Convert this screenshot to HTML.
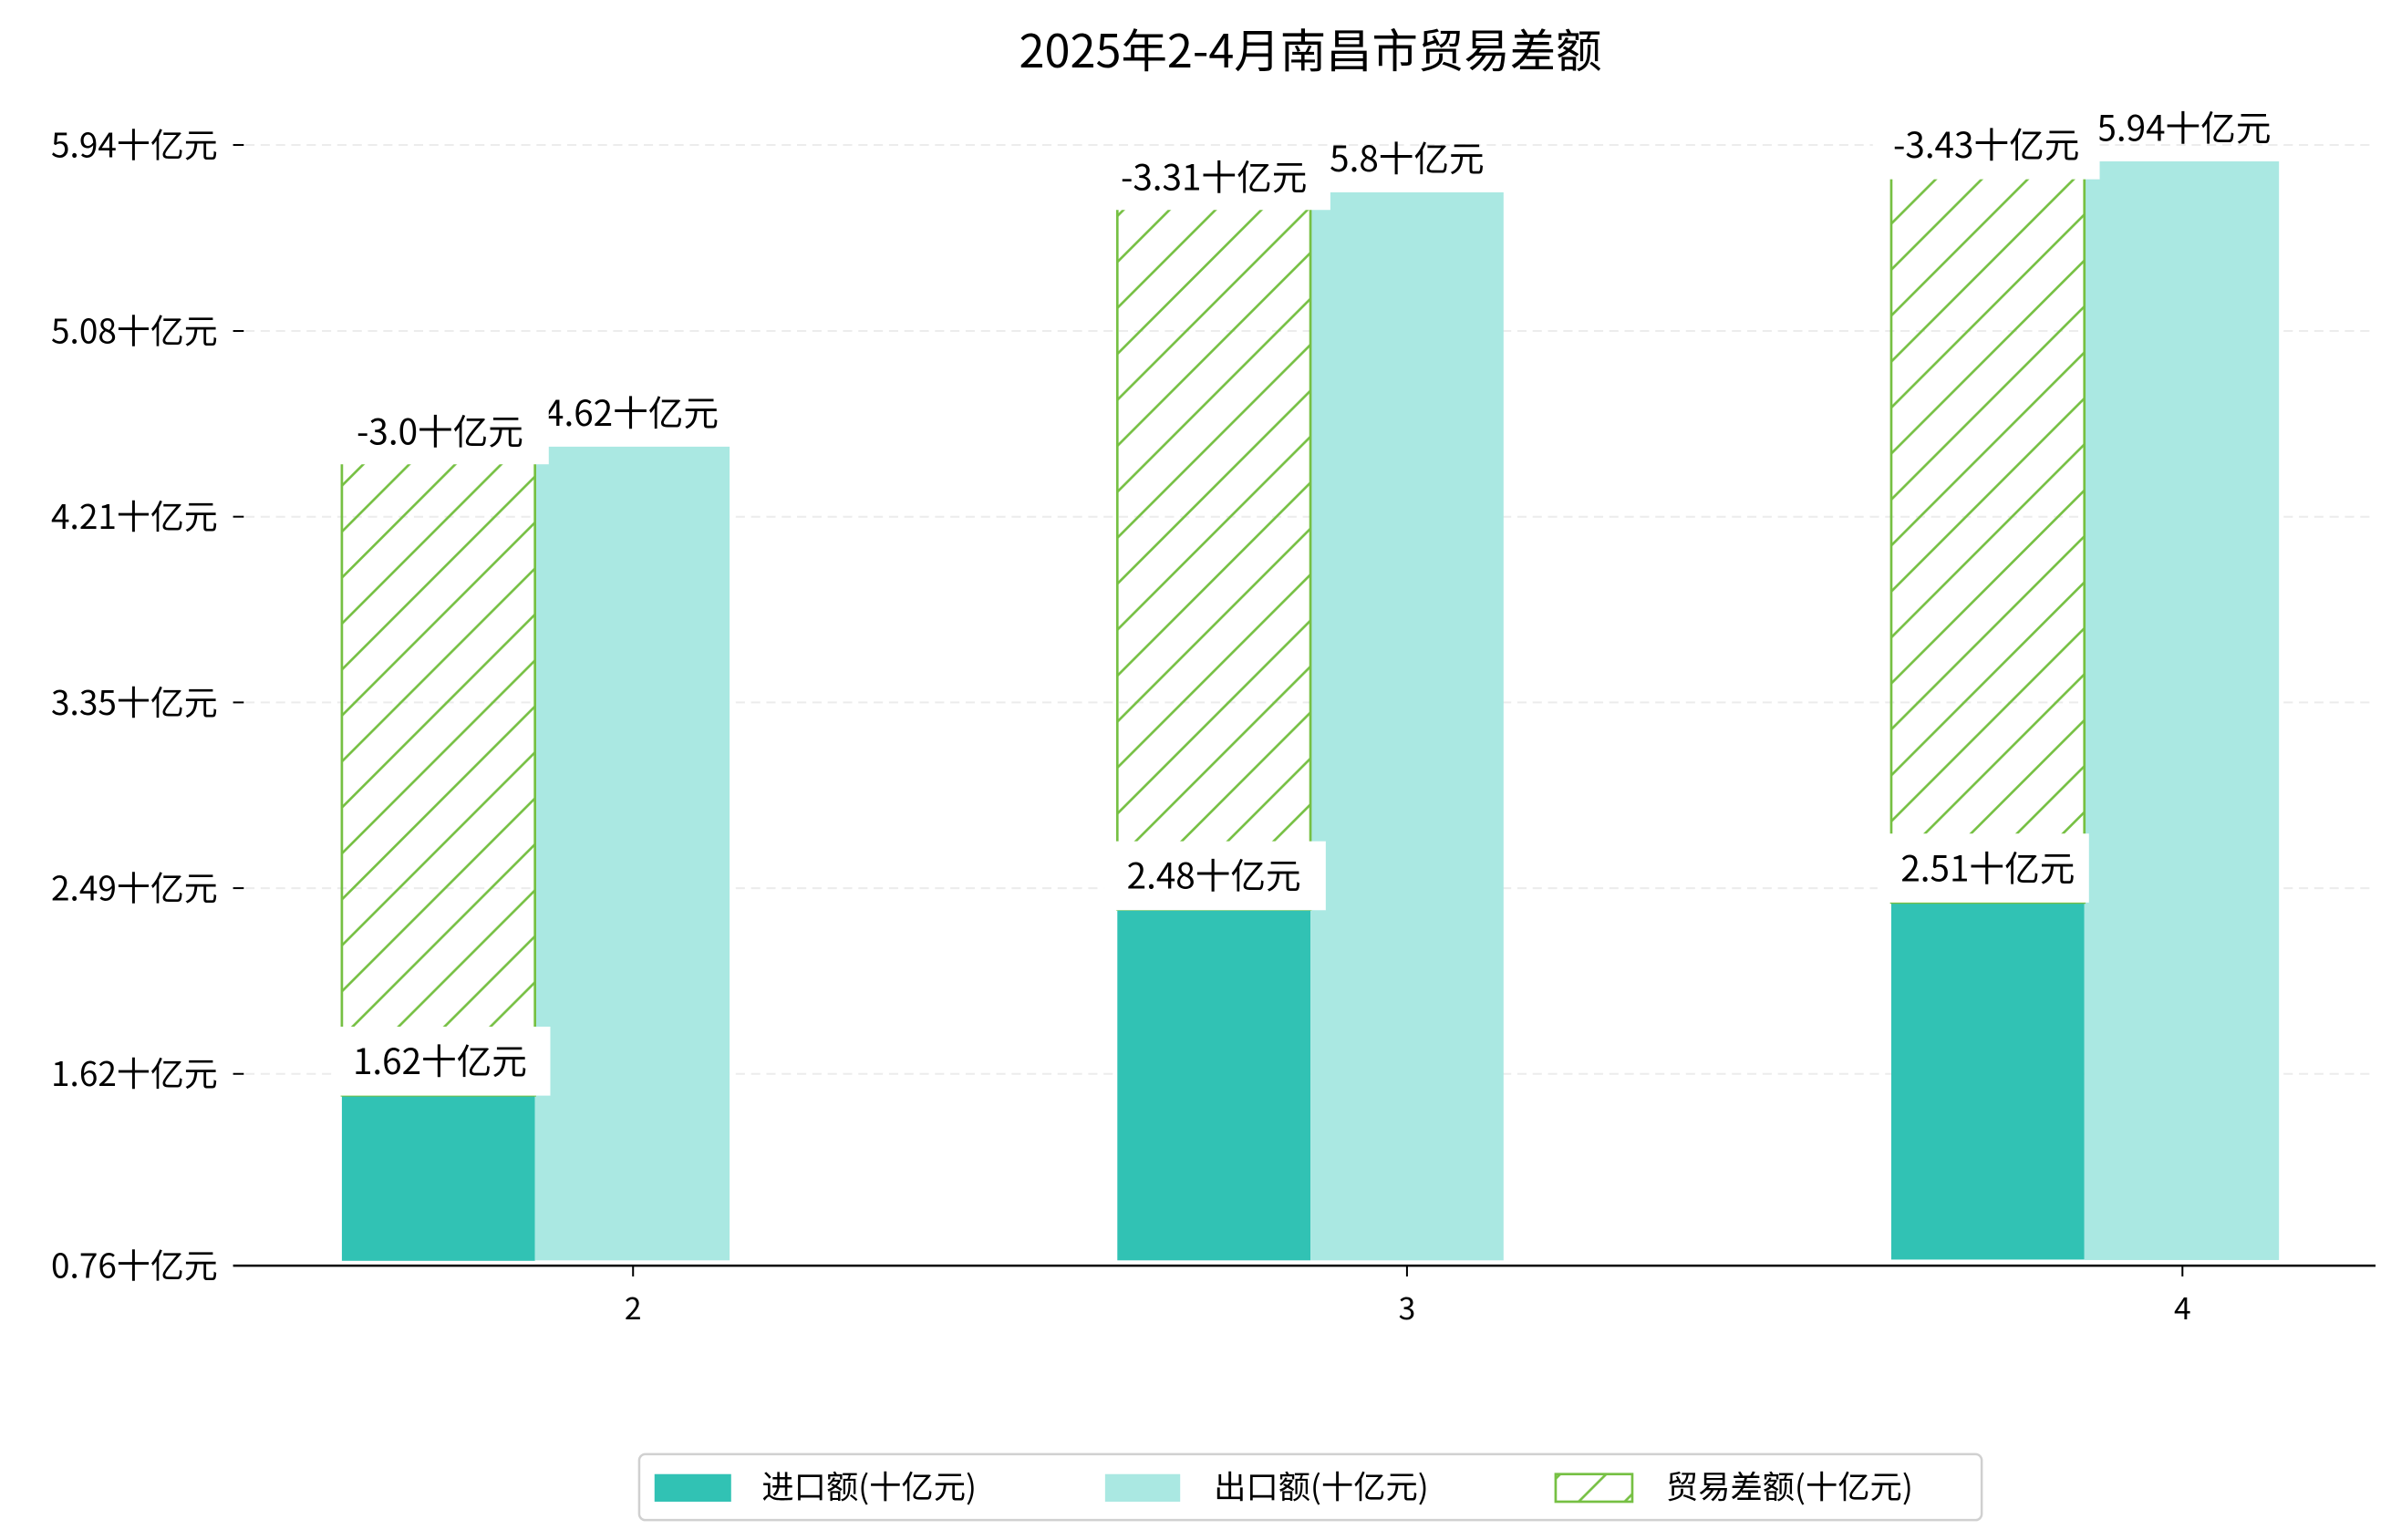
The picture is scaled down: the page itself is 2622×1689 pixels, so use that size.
<!DOCTYPE html>
<html><head><meta charset="utf-8"><style>html,body{margin:0;padding:0;background:#fff}svg{display:block}text{font-family:"WenQuanYi Zen Hei","Noto Sans CJK SC","Liberation Sans",sans-serif;fill:#000}</style></head>
<body>
<svg width="2622" height="1689" viewBox="0 0 1560 1005" xmlns="http://www.w3.org/2000/svg">
<defs>
<pattern id="h" patternUnits="userSpaceOnUse" width="30" height="30">
<path d="M-5,35 L35,-5 M-20,20 L20,-20 M10,50 L50,10" stroke="#76c043" stroke-width="1.6"/>
</pattern>
</defs>
<rect width="1560" height="1005" fill="#fff"/>
<text x="855" y="44" font-size="30" text-anchor="middle">2025年2-4月南昌市贸易差额</text>
<g stroke="#ececec" stroke-width="1.2" stroke-dasharray="6,4">
<line x1="160" y1="94.6" x2="1550" y2="94.6"/>
<line x1="160" y1="216" x2="1550" y2="216"/>
<line x1="160" y1="337.2" x2="1550" y2="337.2"/>
<line x1="160" y1="458.4" x2="1550" y2="458.4"/>
<line x1="160" y1="579.6" x2="1550" y2="579.6"/>
<line x1="160" y1="700.8" x2="1550" y2="700.8"/>
</g>
<g stroke="#000" stroke-width="1.2">
<line x1="152" y1="94.6" x2="159" y2="94.6"/>
<line x1="152" y1="216" x2="159" y2="216"/>
<line x1="152" y1="337.2" x2="159" y2="337.2"/>
<line x1="152" y1="458.4" x2="159" y2="458.4"/>
<line x1="152" y1="579.6" x2="159" y2="579.6"/>
<line x1="152" y1="700.8" x2="159" y2="700.8"/>
</g>
<g font-size="22" text-anchor="end">
<text x="142" y="102.6">5.94十亿元</text>
<text x="142" y="224">5.08十亿元</text>
<text x="142" y="345.2">4.21十亿元</text>
<text x="142" y="466.4">3.35十亿元</text>
<text x="142" y="587.6">2.49十亿元</text>
<text x="142" y="708.8">1.62十亿元</text>
<text x="142" y="834">0.76十亿元</text>
</g>
<g fill="#31c2b4">
<rect x="223" y="714.8" width="126" height="108"/>
<rect x="729" y="593.5" width="126" height="229"/>
<rect x="1234" y="589" width="126" height="233"/>
</g>
<g fill="#aae8e2">
<rect x="349" y="291.5" width="127" height="531"/>
<rect x="855" y="125.5" width="126" height="697"/>
<rect x="1360" y="105.3" width="127" height="717"/>
</g>
<g fill="url(#h)" stroke="#76c043" stroke-width="1.6">
<rect x="223" y="291.5" width="126" height="423.3"/>
<rect x="729" y="125.5" width="126" height="468"/>
<rect x="1234" y="105.3" width="126" height="483.7"/>
</g>
<line x1="152" y1="826" x2="1550" y2="826" stroke="#000" stroke-width="1.5"/>
<g stroke="#000" stroke-width="1.2">
<line x1="413" y1="826" x2="413" y2="833"/>
<line x1="918" y1="826" x2="918" y2="833"/>
<line x1="1424" y1="826" x2="1424" y2="833"/>
</g>
<g font-size="20" text-anchor="middle">
<text x="413" y="861">2</text><text x="918" y="861">3</text><text x="1424" y="861">4</text>
</g>
<g font-size="23" text-anchor="middle">
<text x="412" y="278">4.62十亿元</text>
<text x="918" y="112">5.8十亿元</text>
<text x="1425" y="92">5.94十亿元</text>
</g>
<g fill="#fff">
<rect x="218" y="670" width="141" height="45"/>
<rect x="720" y="549" width="145" height="45"/>
<rect x="1225" y="544" width="138" height="45"/>
<rect x="218" y="263" width="140" height="40"/>
<rect x="716" y="97" width="152" height="40"/>
<rect x="1222" y="76" width="148" height="41"/>
</g>
<g font-size="23" text-anchor="middle">
<text x="287" y="701">1.62十亿元</text>
<text x="792" y="580">2.48十亿元</text>
<text x="1297" y="575">2.51十亿元</text>
<text x="287" y="290">-3.0十亿元</text>
<text x="792" y="124">-3.31十亿元</text>
<text x="1296" y="103">-3.43十亿元</text>
</g>
<rect x="417" y="949" width="876" height="43" rx="4" fill="#fff" stroke="#d0d0d0" stroke-width="1.5"/>
<rect x="427" y="962" width="50" height="18" fill="#31c2b4"/>
<rect x="721" y="962" width="49" height="18" fill="#aae8e2"/>
<rect x="1015" y="962" width="50" height="18" fill="url(#h)" stroke="#76c043" stroke-width="1.6"/>
<g font-size="21">
<text x="497" y="978">进口额(十亿元)</text>
<text x="792" y="978">出口额(十亿元)</text>
<text x="1087" y="978">贸易差额(十亿元)</text>
</g>
</svg>
</body></html>
